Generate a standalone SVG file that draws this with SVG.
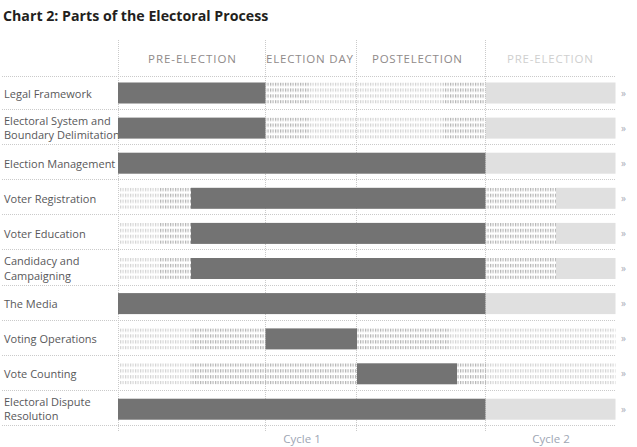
<svg xmlns="http://www.w3.org/2000/svg" width="637" height="447" viewBox="0 0 637 447">
<style>
.title{font-family:"Open Sans","Noto Sans",sans-serif;font-weight:700;font-size:14.2px;fill:#231f20}
.lbl{font-family:"Open Sans","Noto Sans",sans-serif;font-size:11px;fill:#58585a}
.hdr{font-family:"Open Sans","Noto Sans",sans-serif;font-size:11.5px;fill:#8f8a8a}
.hdr2{fill:#cfcfcf}
.cyc{font-family:"Open Sans","Noto Sans",sans-serif;font-size:11.5px;fill:#9ea6b4}
.arr{font-family:"Open Sans","Noto Sans",sans-serif;font-size:10px;fill:#a9acb8}
.D{fill:#737373}
.L{fill:#e0e0e0}
.h{fill:url(#hatchL)}
.H{fill:url(#hatchD)}
.grid line{stroke:#cacaca;stroke-width:1;stroke-dasharray:1 1}
</style>
<defs>
<pattern id="hatchD" patternUnits="userSpaceOnUse" width="2.5" height="5.9">
<rect x="0" y="0" width="1.2" height="3.4" fill="#b4b4b4"/>
</pattern>
<pattern id="hatchL" patternUnits="userSpaceOnUse" width="2.5" height="5.9">
<rect x="0" y="0" width="1.2" height="3.4" fill="#d4d4d4"/>
</pattern>
</defs>
<rect width="637" height="447" fill="#ffffff"/>
<text class="title" x="3" y="21">Chart 2: Parts of the Electoral Process</text>

<g id="headers">
<text class="hdr" x="148" y="63" textLength="88" lengthAdjust="spacing">PRE-ELECTION</text>
<text class="hdr" x="266" y="63" textLength="87" lengthAdjust="spacing">ELECTION DAY</text>
<text class="hdr" x="372" y="63" textLength="90" lengthAdjust="spacing">POSTELECTION</text>
<text class="hdr hdr2" x="507" y="63" textLength="86" lengthAdjust="spacing">PRE-ELECTION</text>
</g>

<g id="connectors" class="grid">
<line x1="118.5" y1="40" x2="118.5" y2="431"/>
<line x1="265.5" y1="40" x2="265.5" y2="431"/>
<line x1="356.5" y1="40" x2="356.5" y2="431"/>
<line x1="485.5" y1="40" x2="485.5" y2="431"/>
<line x1="2" y1="76.5" x2="615" y2="76.5"/>
<line x1="2" y1="109.5" x2="615" y2="109.5"/>
<line x1="2" y1="144.5" x2="615" y2="144.5"/>
<line x1="2" y1="179.5" x2="615" y2="179.5"/>
<line x1="2" y1="214.5" x2="615" y2="214.5"/>
<line x1="2" y1="249.5" x2="615" y2="249.5"/>
<line x1="2" y1="285.5" x2="615" y2="285.5"/>
<line x1="2" y1="320.5" x2="615" y2="320.5"/>
<line x1="2" y1="355.5" x2="615" y2="355.5"/>
<line x1="2" y1="390.5" x2="615" y2="390.5"/>
<line x1="2" y1="425.5" x2="615" y2="425.5"/>
</g>

<g id="row-legal" transform="translate(0,82.5)">
<text class="lbl" x="4" y="15">Legal Framework</text>
<rect class="D" x="118" y="0" width="147.5" height="21"/>
<rect class="H" x="265.5" y="0" width="44.5" height="21"/>
<rect class="h" x="310" y="0" width="133" height="21"/>
<rect class="H" x="443" y="0" width="42.5" height="21"/>
<rect class="L" x="486" y="0" width="129.5" height="21"/>
<text class="arr" x="621" y="14">»</text>
</g>

<g id="row-electoral-system" transform="translate(0,117.6)">
<text class="lbl" x="4" y="7">Electoral System and</text>
<text class="lbl" x="4" y="21.5">Boundary Delimitation</text>
<rect class="D" x="118" y="0" width="147.5" height="21"/>
<rect class="H" x="265.5" y="0" width="44.5" height="21"/>
<rect class="h" x="310" y="0" width="133" height="21"/>
<rect class="H" x="443" y="0" width="42.5" height="21"/>
<rect class="L" x="486" y="0" width="129.5" height="21"/>
<text class="arr" x="621" y="14">»</text>
</g>

<g id="row-election-management" transform="translate(0,152.7)">
<text class="lbl" x="4" y="15">Election Management</text>
<rect class="D" x="118" y="0" width="367.5" height="21"/>
<rect class="L" x="486" y="0" width="129.5" height="21"/>
<text class="arr" x="621" y="14">»</text>
</g>

<g id="row-voter-registration" transform="translate(0,187.8)">
<text class="lbl" x="4" y="15">Voter Registration</text>
<rect class="h" x="119" y="0" width="41" height="21"/>
<rect class="H" x="160" y="0" width="31" height="21"/>
<rect class="D" x="191" y="0" width="294.5" height="21"/>
<rect class="H" x="486" y="0" width="70" height="21"/>
<rect class="L" x="556" y="0" width="59.5" height="21"/>
<text class="arr" x="621" y="14">»</text>
</g>

<g id="row-voter-education" transform="translate(0,222.9)">
<text class="lbl" x="4" y="15">Voter Education</text>
<rect class="h" x="119" y="0" width="41" height="21"/>
<rect class="H" x="160" y="0" width="31" height="21"/>
<rect class="D" x="191" y="0" width="294.5" height="21"/>
<rect class="H" x="486" y="0" width="70" height="21"/>
<rect class="L" x="556" y="0" width="59.5" height="21"/>
<text class="arr" x="621" y="14">»</text>
</g>

<g id="row-candidacy" transform="translate(0,258)">
<text class="lbl" x="4" y="7">Candidacy and</text>
<text class="lbl" x="4" y="21.5">Campaigning</text>
<rect class="h" x="119" y="0" width="41" height="21"/>
<rect class="H" x="160" y="0" width="31" height="21"/>
<rect class="D" x="191" y="0" width="294.5" height="21"/>
<rect class="H" x="486" y="0" width="70" height="21"/>
<rect class="L" x="556" y="0" width="59.5" height="21"/>
<text class="arr" x="621" y="14">»</text>
</g>

<g id="row-media" transform="translate(0,293.1)">
<text class="lbl" x="4" y="15">The Media</text>
<rect class="D" x="118" y="0" width="367.5" height="21"/>
<rect class="L" x="486" y="0" width="129.5" height="21"/>
<text class="arr" x="621" y="14">»</text>
</g>

<g id="row-voting-operations" transform="translate(0,328.4)">
<text class="lbl" x="4" y="15">Voting Operations</text>
<rect class="h" x="119" y="0" width="72" height="21"/>
<rect class="H" x="191" y="0" width="74.5" height="21"/>
<rect class="D" x="265.5" y="0" width="91.5" height="21"/>
<rect class="H" x="357" y="0" width="93" height="21"/>
<rect class="h" x="450" y="0" width="165.5" height="21"/>
<text class="arr" x="621" y="14">»</text>
</g>

<g id="row-vote-counting" transform="translate(0,363.3)">
<text class="lbl" x="4" y="15">Vote Counting</text>
<rect class="h" x="119" y="0" width="72" height="21"/>
<rect class="H" x="191" y="0" width="166" height="21"/>
<rect class="D" x="357" y="0" width="100" height="21"/>
<rect class="H" x="457" y="0" width="29" height="21"/>
<rect class="h" x="486" y="0" width="129.5" height="21"/>
<text class="arr" x="621" y="14">»</text>
</g>

<g id="row-dispute" transform="translate(0,398.7)">
<text class="lbl" x="4" y="7">Electoral Dispute</text>
<text class="lbl" x="4" y="21.5">Resolution</text>
<rect class="D" x="118" y="0" width="367.5" height="21"/>
<rect class="L" x="486" y="0" width="129.5" height="21"/>
<text class="arr" x="621" y="14">»</text>
</g>

<g id="cycles">
<text class="cyc" x="302" y="443" text-anchor="middle">Cycle 1</text>
<text class="cyc" x="551" y="443" text-anchor="middle">Cycle 2</text>
</g>
</svg>
